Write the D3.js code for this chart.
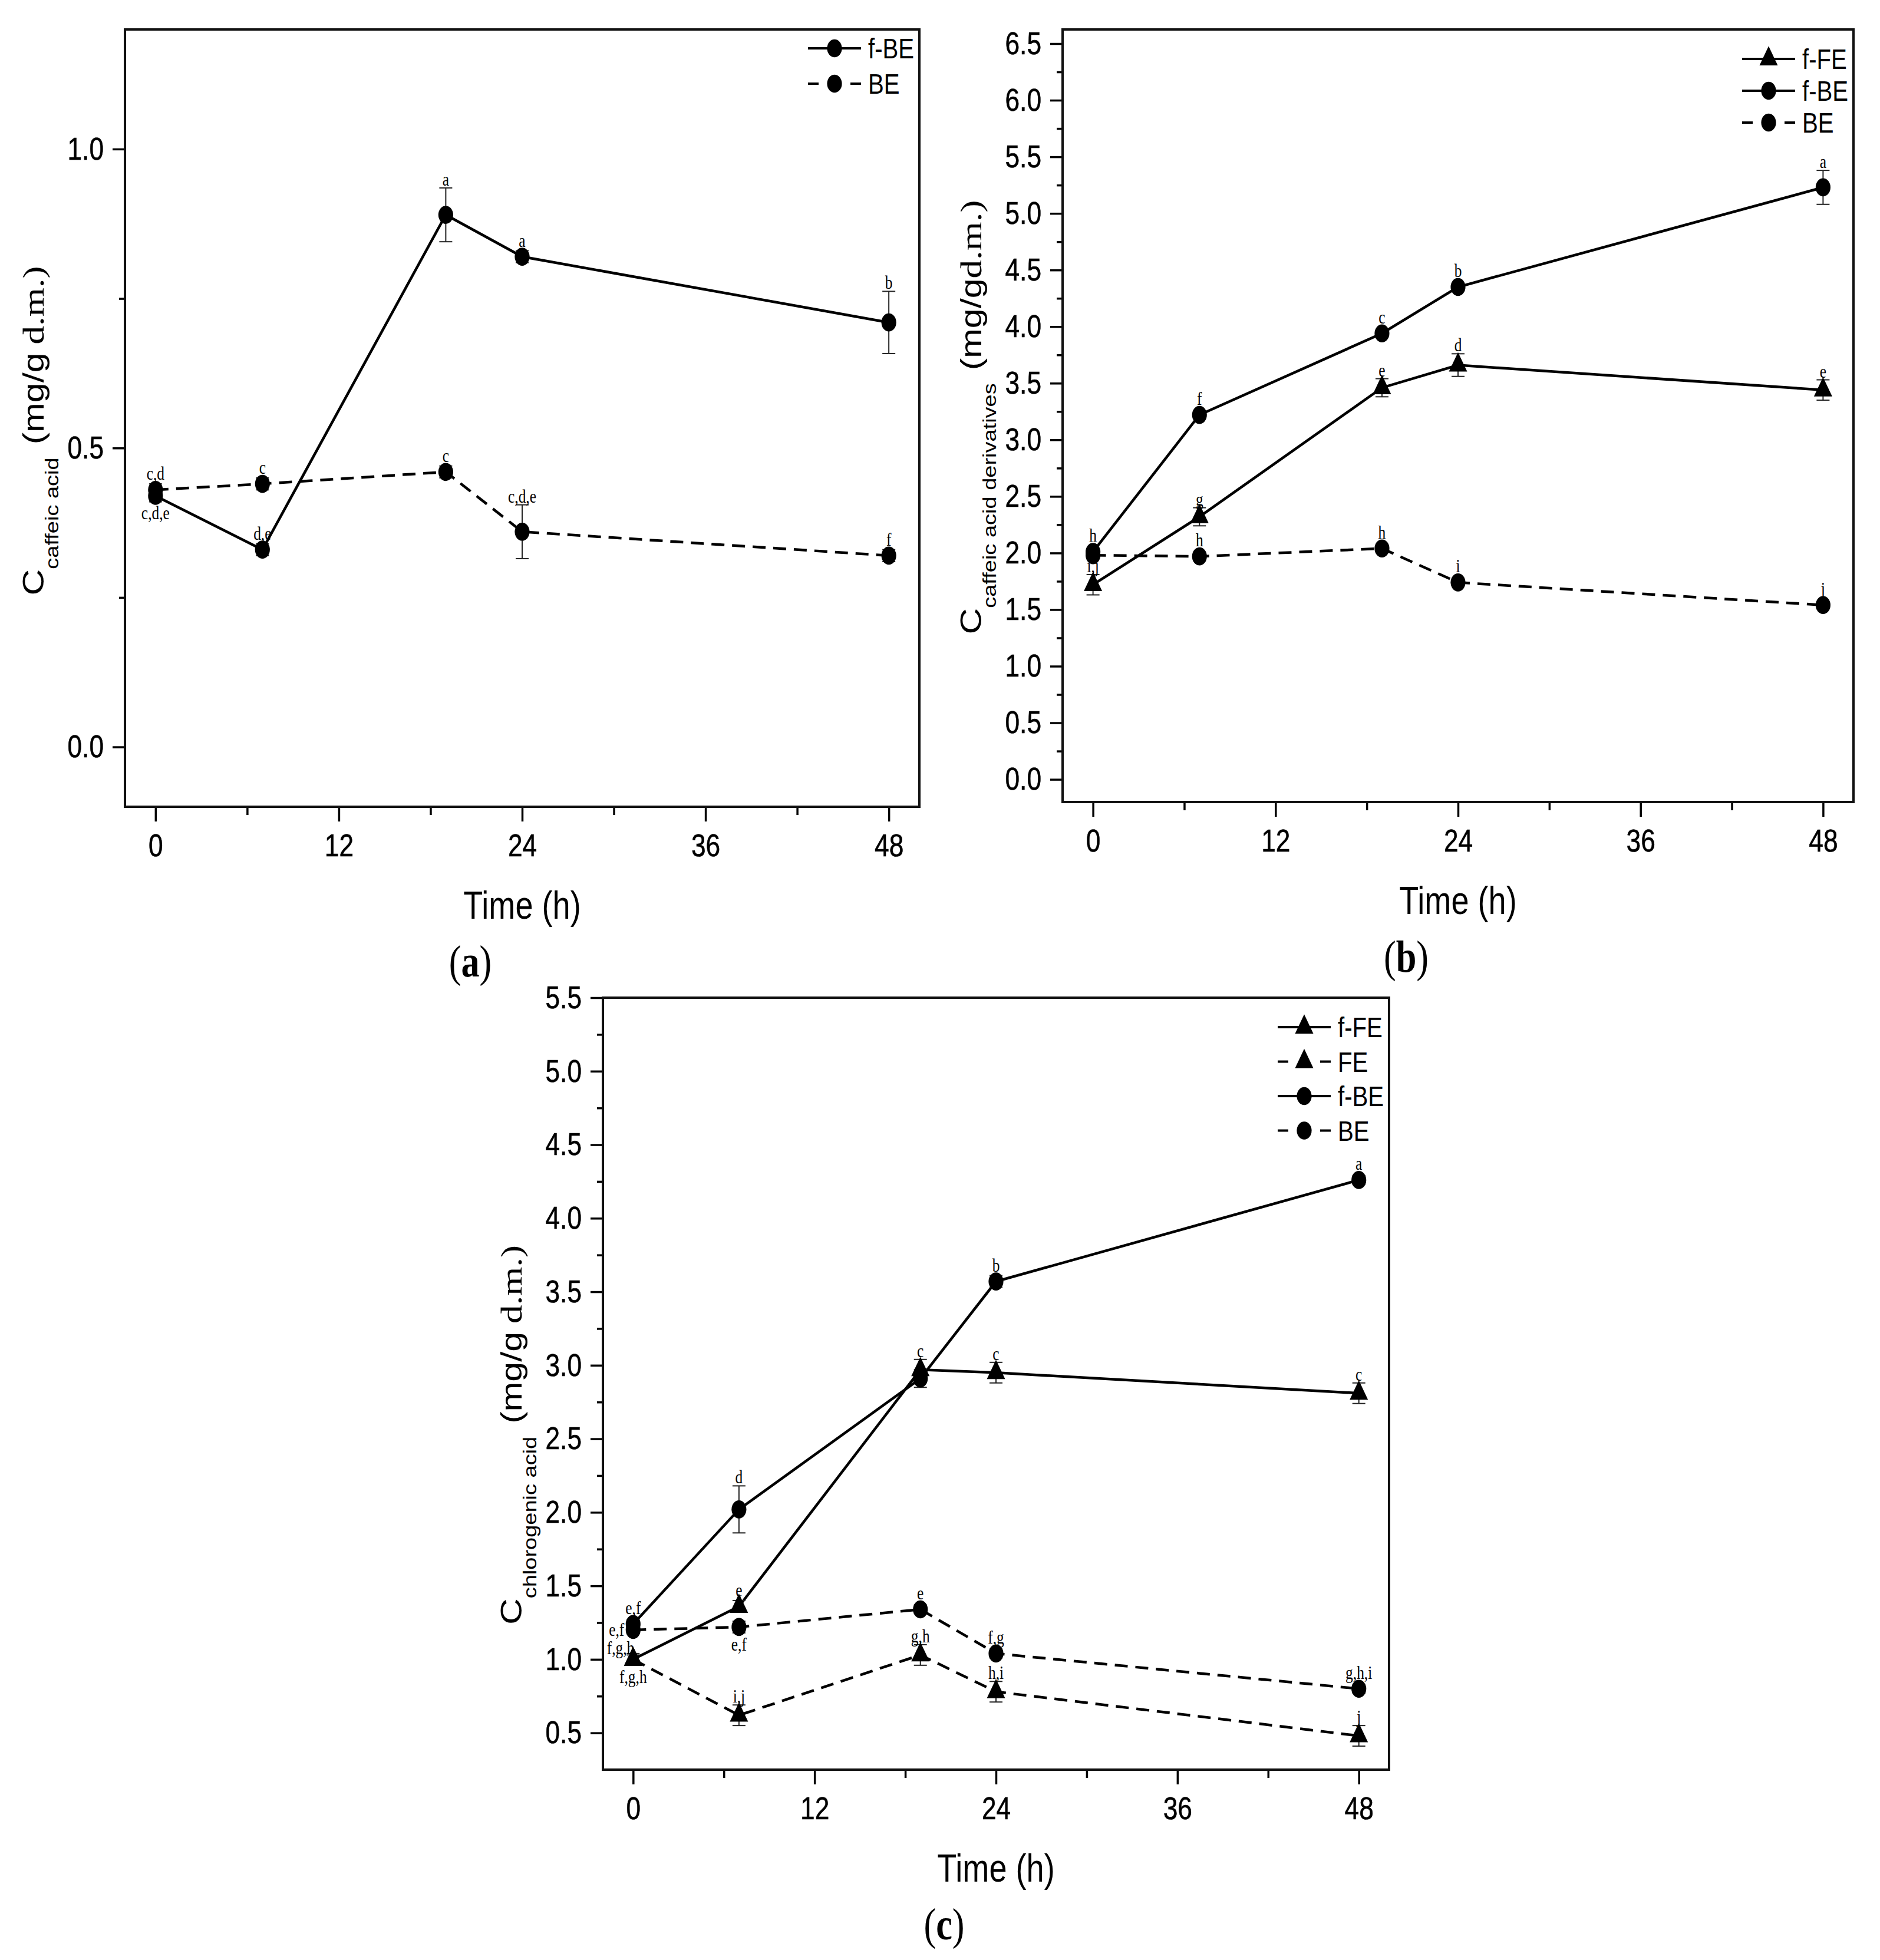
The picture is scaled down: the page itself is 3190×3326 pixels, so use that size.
<!DOCTYPE html>
<html>
<head>
<meta charset="utf-8">
<script src="https://cdnjs.cloudflare.com/ajax/libs/d3/7.8.5/d3.min.js"></script>
<style>
body{margin:0;background:#fff;}
</style>
</head>
<body>
<svg id="fig" width="3190" height="3326"></svg>
<script>
// sampling times (h) and axis ticks, shared by all three panels
var hours = [0, 7, 19, 24, 48];
var xTicks = [0, 12, 24, 36, 48];
var xMinor = [6, 18, 30, 42];

// (a) caffeic acid
var a_fBE = [0.42, 0.33, 0.89, 0.82, 0.71];
var a_fBE_err = [0.01, 0.01, 0.045, 0.01, 0.052];
var a_fBE_let = ["c,d,e", "d,e", "a", "a", "b"];
var a_BE = [0.43, 0.44, 0.46, 0.36, 0.32];
var a_BE_err = [0.01, 0.01, 0.01, 0.045, 0.01];
var a_BE_let = ["c,d", "c", "c", "c,d,e", "f"];
var a_yTicks = [0.0, 0.5, 1.0];
var a_yMinor = [0.25, 0.75];

// (b) caffeic acid derivatives
var b_fFE = [1.72, 2.32, 3.46, 3.66, 3.44];
var b_fFE_err = [0.09, 0.08, 0.08, 0.1, 0.09];
var b_fFE_let = ["i,j", "g", "e", "d", "e"];
var b_fBE = [2.01, 3.22, 3.94, 4.35, 5.23];
var b_fBE_err = [0.03, 0.03, 0.03, 0.03, 0.15];
var b_fBE_let = ["h", "f", "c", "b", "a"];
var b_BE = [1.98, 1.97, 2.04, 1.74, 1.54];
var b_BE_err = [0.02, 0.02, 0.02, 0.02, 0.02];
var b_BE_let = ["", "h", "h", "i", "j"];
var b_yTicks = [0, 0.5, 1, 1.5, 2, 2.5, 3, 3.5, 4, 4.5, 5, 5.5, 6, 6.5];
var b_yMinor = [0.25, 0.75, 1.25, 1.75, 2.25, 2.75, 3.25, 3.75, 4.25, 4.75, 5.25, 5.75, 6.25];

// (c) chlorogenic acid
var c_fFE = [1.0, 1.36, 2.97, 2.95, 2.81];
var c_fFE_err = [0.03, 0.04, 0.07, 0.07, 0.07];
var c_fFE_let = ["f,g,h", "e", "c", "c", "c"];
var c_FE = [1.0, 0.62, 1.03, 0.78, 0.48];
var c_FE_err = [0.04, 0.07, 0.07, 0.07, 0.07];
var c_FE_let = ["f,g,h", "i,j", "g,h", "h,i", "j"];
var c_fBE = [1.24, 2.02, 2.91, 3.57, 4.26];
var c_fBE_err = [0.03, 0.16, 0.06, 0.04, 0.03];
var c_fBE_let = ["e,f", "d", "", "b", "a"];
var c_BE = [1.2, 1.22, 1.34, 1.04, 0.8];
var c_BE_err = [0.02, 0.04, 0.03, 0.03, 0.03];
var c_BE_let = ["e,f", "e,f", "e", "f,g", "g,h,i"];
var c_yTicks = [0.5, 1, 1.5, 2, 2.5, 3, 3.5, 4, 4.5, 5, 5.5];
var c_yMinor = [0.75, 1.25, 1.75, 2.25, 2.75, 3.25, 3.75, 4.25, 4.75, 5.25];

var K = 0.82; // the figure is squeezed horizontally
var SANS = "Liberation Sans, Arial, sans-serif",
    SERIF = "Liberation Serif, Times New Roman, serif";

function drawPanel(svg, cfg) {
    var g = svg.append("g");
    var x = d3.scaleLinear().domain([-2, 50]).range([cfg.left, cfg.right]);
    var y = d3.scaleLinear().domain(cfg.yDomain).range([cfg.bottom, cfg.top]);

    //axes
    var xaxis = g.append("g").attr("transform", "translate(0," + cfg.bottom + ")")
        .call(d3.axisBottom(x).tickValues(xTicks).tickSize(25).tickPadding(21).tickFormat(d3.format("d")));
    g.append("g").attr("transform", "translate(0," + cfg.bottom + ")")
        .call(d3.axisBottom(x).tickValues(xMinor).tickSize(14).tickFormat(""));
    var yaxis = g.append("g").attr("transform", "translate(" + cfg.left + ",0)")
        .call(d3.axisLeft(y).tickValues(cfg.yTicks).tickSize(21).tickPadding(15).tickFormat(d3.format(".1f")));
    g.append("g").attr("transform", "translate(" + cfg.left + ",0)")
        .call(d3.axisLeft(y).tickValues(cfg.yMinor).tickSize(10).tickFormat(""));
    g.selectAll(".domain").remove();
    g.selectAll(".tick line").attr("stroke", "#000").attr("stroke-width", 3.5);
    g.selectAll(".tick text").attr("font-size", 54).attr("font-family", SANS).attr("fill", "#000")
        .attr("stroke", "#000").attr("stroke-width", 0.6);
    xaxis.selectAll(".tick text").attr("transform", "scale(" + K + ",1)");
    yaxis.selectAll(".tick text").attr("x", -36 / K).attr("transform", "scale(" + K + ",1)");

    g.append("rect")
        .attr("x", cfg.left).attr("y", cfg.top)
        .attr("width", cfg.right - cfg.left).attr("height", cfg.bottom - cfg.top)
        .attr("fill", "none").attr("stroke", "#111").attr("stroke-width", 4);

    //lines first, then error bars, markers and letters on top
    cfg.series.forEach(function(s) {
        var line = d3.line().x(function(d, i) { return x(hours[i]); }).y(function(d) { return y(d); });
        g.append("path").datum(s.values)
            .attr("d", line)
            .attr("fill", "none").attr("stroke", "#000").attr("stroke-width", 4.5)
            .attr("stroke-dasharray", s.dashed ? "22,13" : null);
    });
    cfg.series.forEach(function(s) {
        var eb = g.append("g").attr("stroke", "#222").attr("stroke-width", 2);
        s.values.forEach(function(v, i) {
            var cx = x(hours[i]), e = s.err[i];
            eb.append("line").attr("x1", cx).attr("x2", cx).attr("y1", y(v - e)).attr("y2", y(v + e));
            [v - e, v + e].forEach(function(w) {
                eb.append("line").attr("x1", cx - 11).attr("x2", cx + 11).attr("y1", y(w)).attr("y2", y(w));
            });
        });
    });
    cfg.series.forEach(function(s) {
        var sym = d3.symbol().type(s.tri ? d3.symbolTriangle : d3.symbolCircle).size(s.tri ? 620 : 740);
        g.selectAll(null).data(s.values).enter().append("path")
            .attr("d", sym)
            .attr("fill", "#000")
            .attr("transform", function(d, i) { return "translate(" + x(hours[i]) + "," + y(d) + ") scale(" + K + ",1)"; });
    });
    cfg.series.forEach(function(s) {
        s.values.forEach(function(v, i) {
            if (!s.letters[i]) return;
            var cx = x(hours[i]), cy = y(v), ep = Math.abs(cy - y(v + s.err[i]));
            var p = (s.pos && s.pos[i]) || "u", tx = cx, ty, anchor = "middle";
            if (p == "u") { ty = cy - Math.max(17, ep + 4); }
            else if (p == "d") { ty = cy + Math.max(40, ep + 26); }
            else if (p == "l") { tx = cx - 15; ty = cy + 10; anchor = "end"; }
            else { tx = cx + 2; ty = cy - 9; anchor = "end"; }
            g.append("text")
                .attr("transform", "translate(" + tx + "," + ty + ") scale(" + K + ",1)")
                .attr("text-anchor", anchor)
                .attr("font-family", SERIF).attr("font-size", 31)
                .text(s.letters[i]);
        });
    });

    //legend
    cfg.series.slice().sort(function(a, b) { return a.legendOrder - b.legendOrder; }).forEach(function(s, i) {
        var ly = cfg.top + cfg.legTop + i * cfg.legGap,
            x1 = cfg.right - 189, x2 = cfg.right - 99, mx = cfg.right - 144;
        if (s.dashed) {
            g.append("line").attr("x1", x1).attr("x2", x1 + 18).attr("y1", ly).attr("y2", ly).attr("stroke", "#000").attr("stroke-width", 4);
            g.append("line").attr("x1", x2 - 18).attr("x2", x2).attr("y1", ly).attr("y2", ly).attr("stroke", "#000").attr("stroke-width", 4);
        } else {
            g.append("line").attr("x1", x1).attr("x2", x2).attr("y1", ly).attr("y2", ly).attr("stroke", "#000").attr("stroke-width", 4);
        }
        g.append("path")
            .attr("d", d3.symbol().type(s.tri ? d3.symbolTriangle : d3.symbolCircle).size(s.tri ? 620 : 740))
            .attr("transform", "translate(" + mx + "," + ly + ") scale(" + K + ",1)");
        g.append("text")
            .attr("transform", "translate(" + (cfg.right - 87) + "," + (ly + 17) + ") scale(" + K + ",1)")
            .attr("font-family", SANS).attr("font-size", 49)
            .text(s.name);
    });

    //axis titles
    var midX = (cfg.left + cfg.right) / 2;
    g.append("text")
        .attr("transform", "translate(" + midX + "," + (cfg.bottom + 190) + ") scale(" + K + ",1)")
        .attr("text-anchor", "middle").attr("font-family", SANS).attr("font-size", 66)
        .text("Time (h)");

    var yl = g.append("text")
        .attr("transform", "translate(" + (cfg.left - 138) + "," + cfg.yLabelMid + ") scale(" + K + ",1) rotate(-90)")
        .attr("text-anchor", "middle").attr("font-family", SANS);
    yl.append("tspan").attr("font-size", 62).text("C");
    yl.append("tspan").attr("font-size", 38).attr("dy", 30).text(cfg.sub);
    yl.append("tspan").attr("font-size", 61).attr("dy", -30).attr("dx", 22).text("(mg/g");
    yl.append("tspan").attr("font-size", 63).attr("font-family", SERIF).attr("dx", cfg.unitGap).text("d.m.)");

    var pl = g.append("text")
        .attr("transform", "translate(" + (midX - 88) + "," + (cfg.bottom + 288) + ") scale(" + K + ",1)")
        .attr("text-anchor", "middle").attr("font-family", SERIF).attr("font-size", 76);
    pl.append("tspan").text("(");
    pl.append("tspan").attr("font-weight", "bold").text(cfg.panel);
    pl.append("tspan").text(")");
}

var svg = d3.select("#fig");
svg.append("rect").attr("width", 3190).attr("height", 3326).attr("fill", "#fff");

drawPanel(svg, {
    left: 212, right: 1560, top: 50, bottom: 1369,
    yDomain: [-0.1, 1.2], yTicks: a_yTicks, yMinor: a_yMinor,
    legTop: 32, legGap: 60, yLabelMid: 731, sub: "caffeic acid", unitGap: 14, panel: "a",
    series: [
        {name: "f-BE", values: a_fBE, err: a_fBE_err, letters: a_fBE_let, pos: ["d", "u", "u", "u", "u"], legendOrder: 0},
        {name: "BE", values: a_BE, err: a_BE_err, letters: a_BE_let, dashed: true, legendOrder: 1}
    ]
});

drawPanel(svg, {
    left: 1803, right: 3145, top: 50, bottom: 1361,
    yDomain: [-0.2, 6.625], yTicks: b_yTicks, yMinor: b_yMinor,
    legTop: 50, legGap: 54, yLabelMid: 708, sub: "caffeic acid derivatives", unitGap: 0, panel: "b",
    series: [
        {name: "f-FE", values: b_fFE, err: b_fFE_err, letters: b_fFE_let, tri: true, legendOrder: 0},
        {name: "f-BE", values: b_fBE, err: b_fBE_err, letters: b_fBE_let, legendOrder: 1},
        {name: "BE", values: b_BE, err: b_BE_err, letters: b_BE_let, dashed: true, legendOrder: 2}
    ]
});

drawPanel(svg, {
    left: 1023, right: 2357, top: 1693, bottom: 3003,
    yDomain: [0.25, 5.5], yTicks: c_yTicks, yMinor: c_yMinor,
    legTop: 50, legGap: 58.5, yLabelMid: 2435, sub: "chlorogenic acid", unitGap: 14, panel: "c",
    series: [
        {name: "f-FE", values: c_fFE, err: c_fFE_err, letters: c_fFE_let, tri: true, pos: ["ul", "u", "u", "u", "u"], legendOrder: 0},
        {name: "FE", values: c_FE, err: c_FE_err, letters: c_FE_let, tri: true, dashed: true, pos: ["d", "u", "u", "u", "u"], legendOrder: 1},
        {name: "f-BE", values: c_fBE, err: c_fBE_err, letters: c_fBE_let, legendOrder: 2},
        {name: "BE", values: c_BE, err: c_BE_err, letters: c_BE_let, dashed: true, pos: ["l", "d", "u", "u", "u"], legendOrder: 3}
    ]
});
</script>
</body>
</html>
